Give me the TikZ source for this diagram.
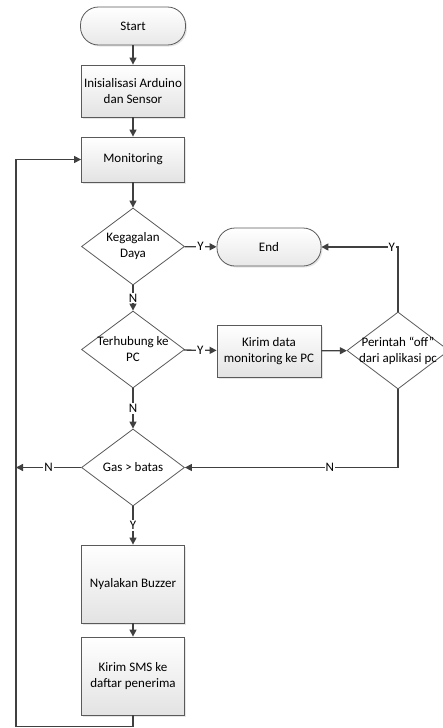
\documentclass[tikz,border=0pt]{standalone}
\usepackage{fontspec}
\setmainfont{Carlito}
\usepackage{tikz}
\usetikzlibrary{shapes.geometric,arrows.meta,shadows}

\definecolor{linegray}{HTML}{404040}
\definecolor{bordergray}{HTML}{5A5A5A}
\tikzset{
  terminal/.style={draw=bordergray,line width=0.8pt,rounded corners=18pt,top color=white,bottom color=gray!18,
    drop shadow={shadow xshift=1.5pt,shadow yshift=-1.5pt,opacity=0.2},minimum width=105pt,minimum height=38pt,inner sep=0pt},
  process/.style={draw=bordergray,line width=0.8pt,top color=white,bottom color=gray!22,align=center,
    drop shadow={shadow xshift=1.5pt,shadow yshift=-1.5pt,opacity=0.2},minimum width=103pt,inner sep=0pt},
  decision/.style={draw=bordergray,line width=0.8pt,diamond,fill=white,align=center,aspect=1.34,
    minimum width=103pt,minimum height=77pt,inner xsep=-6pt,inner ysep=-4pt},
  flow/.style={draw=linegray,line width=1.3pt,-{Triangle[length=7pt,width=7pt]}},
  yn/.style={fill=white,inner sep=1pt,text=black}
}

\begin{document}
\begin{tikzpicture}[x=1pt,y=-1pt,font=\fontsize{13}{16}\selectfont]
\useasboundingbox (0,0) rectangle (443,728);
\node[terminal] (start) at (133,26) {Start};
\node[process,minimum height=52pt] (init) at (133,91) {Inisialisasi Arduino\\dan Sensor};
\node[process,minimum height=45pt] (mon) at (133,159.5) {Monitoring};
\node[decision] (fail) at (133,246.5) {Kegagalan\\Daya};
\node[terminal,minimum width=104pt] (end) at (269,247) {End};
\node[decision] (pc) at (133,349.5) {Terhubung ke\\PC};
\node[process,minimum width=104pt,minimum height=52pt] (kirim) at (269,351) {Kirim data\\monitoring ke PC};
\node[decision,minimum width=102pt] (off) at (398,350.5) {Perintah ``off''\\dari aplikasi pc};
\node[decision] (gas) at (133,467.5) {Gas > batas};
\node[process,minimum height=78pt] (buzz) at (133,584) {Nyalakan Buzzer};
\node[process,minimum height=78pt] (sms) at (133,676) {Kirim SMS ke\\daftar penerima};

\coordinate (gasleft) at (16,467.5);
\coordinate (loopbot) at (16,726.5);

\draw[flow] (start) -- (init);
\draw[flow] (init) -- (mon);
\draw[flow] (mon) -- (fail);
\draw[flow] (fail) -- node[yn] {Y} (end);
\draw[flow] (fail) -- node[yn] {N} (pc);
\draw[flow] (pc) -- node[yn] {Y} (kirim);
\draw[flow] (kirim) -- (off);
\draw[flow] (off.north) |- node[yn,pos=0.54] {Y} (end.east);
\draw[flow] (off.south) |- node[yn,pos=0.66] {N} (gas.east);
\draw[flow] (pc) -- node[yn] {N} (gas);
\draw[flow] (gas.west) -- node[yn] {N} (gasleft);
\draw[flow] (gas) -- node[yn] {Y} (buzz);
\draw[flow] (buzz) -- (sms);
\draw[flow] (sms.south) |- (loopbot) |- (mon.west);
\end{tikzpicture}
\end{document}
